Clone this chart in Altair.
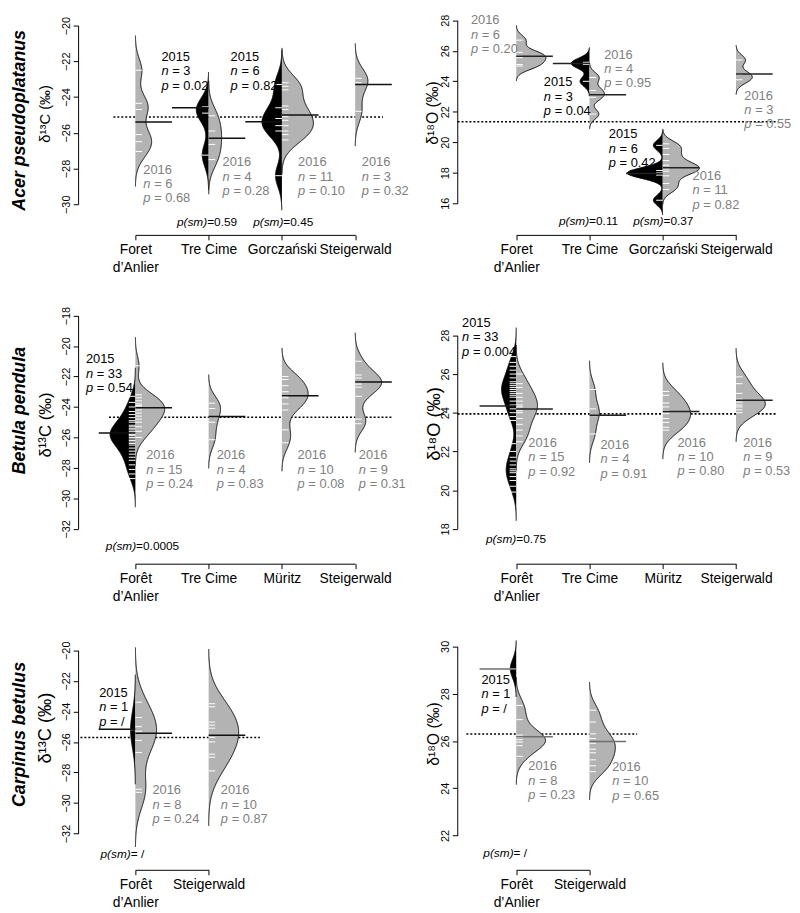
import altair as alt
import pandas as pd

FONT = "Liberation Sans, Arial, Helvetica, sans-serif"
BEAN_GREY = "#B3B3B3"
TEXT_GREY = "#808080"

# ---------------- site names ("|" = line break) ----------------
sites_acer = ["Foret|d’Anlier", "Tre Cime", "Gorczański", "Steigerwald"]
sites_betula = ["Forêt|d’Anlier", "Tre Cime", "Müritz", "Steigerwald"]
sites_carpinus = ["Forêt|d’Anlier", "Steigerwald"]

# ---------------- individual measurements (white bean lines) ----------------
# A: Acer pseudoplatanus, d13C
acer_c_foret_2016 = [-22.5, -24.35, -24.7, -26.1, -26.5, -27.05]
acer_c_trecime_2015 = [-24.55, -24.9, -27.25]
acer_c_trecime_2016 = [-25.05, -25.9, -26.65, -27.5]
acer_c_gorcz_2015 = [-23.3, -24.6, -25.2, -25.6, -25.9, -28.4]
acer_c_gorcz_2016 = [-23.2, -23.4, -23.6, -24.5, -24.7, -25.1, -25.3, -25.6, -25.9, -26.1, -26.4]
acer_c_steig_2016 = [-22.95, -23.2, -24.8]
# B: Acer pseudoplatanus, d18O
acer_o_foret_2016 = [26.7, 25.9, 25.65, 25.55, 25.1, 25.0]
acer_o_trecime_2015 = [25.25, 25.1, 24.0]
acer_o_trecime_2016 = [24.25, 23.4, 22.95, 21.85]
acer_o_gorcz_2015 = [19.8, 18.15, 18.0, 17.95, 17.85, 16.2]
acer_o_gorcz_2016 = [19.9, 19.6, 19.2, 18.8, 18.5, 18.35, 18.25, 18.1, 17.8, 17.3, 16.9]
acer_o_steig_2016 = [25.4, 24.45, 24.1]
# C: Betula pendula, d13C
betula_c_foret_2015 = [-23.3, -23.7, -24.0, -24.3, -24.5, -24.7, -24.9, -25.0, -25.2, -25.3, -25.4,
                       -25.5, -25.6, -25.7, -25.75, -25.8, -25.85, -25.9, -26.0, -26.1, -26.2, -26.3,
                       -26.4, -26.5, -26.7, -26.9, -27.1, -27.3, -27.5, -27.8, -28.1, -28.4, -28.7]
betula_c_foret_2016 = [-21.3, -23.2, -23.4, -23.6, -23.8, -23.9, -24.0, -24.2, -24.4, -24.6, -24.8,
                       -25.0, -25.3, -25.6, -26.0]
betula_c_trecime_2016 = [-23.75, -24.1, -25.0, -26.15]
betula_c_muritz_2016 = [-22.0, -22.2, -22.6, -23.0, -23.3, -23.4, -23.8, -24.2, -25.5, -26.35]
betula_c_steig_2016 = [-21.0, -21.9, -22.1, -22.4, -22.5, -22.7, -23.3, -24.8, -25.1]
# D: Betula pendula, d18O
betula_o_foret_2015 = [26.9, 26.6, 26.4, 26.2, 26.0, 25.8, 25.6, 25.5, 25.4, 25.3, 25.2, 25.1, 25.0,
                       24.9, 24.8, 24.6, 24.4, 24.2, 24.0, 23.8, 23.6,
                       22.4, 22.0, 21.7, 21.5, 21.3, 21.1, 21.0, 20.9, 20.7, 20.5, 20.2, 19.9]
betula_o_foret_2016 = [26.0, 25.5, 25.3, 25.0, 24.8, 24.6, 24.4, 24.3, 24.1, 24.0, 23.7, 23.4, 23.1,
                       22.8, 22.5]
betula_o_trecime_2016 = [25.2, 24.2, 23.85, 22.9]
betula_o_muritz_2016 = [25.1, 24.9, 24.5, 24.3, 24.1, 23.95, 23.7, 23.5, 23.25, 23.1]
betula_o_steig_2016 = [25.85, 25.5, 25.0, 24.7, 24.55, 24.4, 24.3, 24.15, 24.0]
# E: Carpinus betulus, d13C
carp_c_foret_2015 = [-25.2]
carp_c_foret_2016 = [-23.4, -24.4, -25.0, -25.3, -25.9, -26.7, -29.1, -29.3]
carp_c_steig_2016 = [-23.5, -23.7, -24.7, -24.9, -25.1, -25.7, -26.0, -26.8, -27.0, -27.9]
# F: Carpinus betulus, d18O
carp_o_foret_2015 = [29.05]
carp_o_foret_2016 = [27.5, 26.9, 26.25, 26.15, 26.05, 25.95, 25.8, 25.35]
carp_o_steig_2016 = [27.3, 26.8, 26.3, 26.1, 25.9, 25.65, 25.5, 25.2, 24.95, 24.7]

# ---------------- bean means (site, year, mean) ----------------
acer_c_means = [(1, 2016, -25.4), (2, 2015, -24.6), (2, 2016, -26.3), (3, 2015, -25.38), (3, 2016, -25.0), (4, 2016, -23.3)]
acer_o_means = [(1, 2016, 25.65), (2, 2015, 25.17), (2, 2016, 23.12), (3, 2015, 17.96), (3, 2016, 18.33), (4, 2016, 24.48)]
betula_c_means = [(1, 2015, -25.71), (1, 2016, -24.05), (2, 2016, -24.63), (3, 2016, -23.27), (4, 2016, -22.36)]
betula_o_means = [(1, 2015, 24.35), (1, 2016, 24.19), (2, 2016, 23.87), (3, 2016, 24.06), (4, 2016, 24.65)]
carp_c_means = [(1, 2015, -25.17), (1, 2016, -25.43), (2, 2016, -25.56)]
carp_o_means = [(1, 2015, 29.04), (1, 2016, 26.18), (2, 2016, 25.98)]

# ---------------- overall mean (dotted line): value, from site, to site ----------------
acer_c_overall = (-25.12, 0.70, 4.38)
acer_o_overall = (21.35, 0.20, 4.57)
betula_c_overall = (-24.67, 0.64, 4.50)
betula_o_overall = (23.94, 0.20, 4.56)
carp_c_overall = (-25.71, 0.25, 2.70)
carp_o_overall = (26.29, 0.32, 2.65)

# ---------------- annotations: site x, baseline y, year, n, p ----------------
acer_c_notes = [(1.108, -28.29, 2016, "6", "0.68"), (1.355, -21.99, 2015, "3", "0.02"),
                (2.19, -27.87, 2016, "4", "0.28"), (2.30, -21.99, 2015, "6", "0.82"),
                (3.22, -27.87, 2016, "11", "0.10"), (4.09, -27.87, 2016, "3", "0.32")]
acer_o_notes = [(0.382, 27.73, 2016, "6", "0.20"), (1.376, 23.67, 2015, "3", "0.04"),
                (2.20, 25.49, 2016, "4", "0.95"), (2.263, 20.27, 2015, "6", "0.42"),
                (3.406, 17.52, 2016, "11", "0.82"), (4.113, 22.80, 2016, "3", "0.55")]
betula_c_notes = [(0.325, -21.13, 2015, "33", "0.54"), (1.148, -27.44, 2016, "15", "0.24"),
                  (2.11, -27.44, 2016, "4", "0.83"), (3.213, -27.44, 2016, "10", "0.08"),
                  (4.05, -27.44, 2016, "9", "0.31")]
betula_o_notes = [(0.261, 28.43, 2015, "33", "0.004"), (1.165, 22.22, 2016, "15", "0.92"),
                  (2.15, 22.12, 2016, "4", "0.91"), (3.20, 22.25, 2016, "10", "0.80"),
                  (4.10, 22.25, 2016, "9", "0.53")]
carp_c_notes = [(0.506, -23.06, 2015, "1", "/"), (1.233, -29.43, 2016, "8", "0.24"),
                (2.166, -29.43, 2016, "10", "0.87")]
carp_o_notes = [(0.525, 28.40, 2015, "1", "/"), (1.165, 24.76, 2016, "8", "0.23"),
                (2.31, 24.73, 2016, "10", "0.65")]

# p(sm): site x, baseline y, value
acer_c_psm = [(1.98, -31.2, "0.59"), (3.02, -31.2, "0.45")]
acer_o_psm = [(1.995, 14.55, "0.11"), (3.01, 14.55, "0.37")]
betula_c_psm = [(1.01, -33.38, "0.0005")]
betula_o_psm = [(1.00, 17.26, "0.75")]
carp_c_psm = [(0.937, -33.57, " /")]
carp_o_psm = [(0.964, 21.10, " /")]

species_names = ["Acer pseudoplatanus", "Betula pendula", "Carpinus betulus"]

# ---------------- panel setup (layout / style) ----------------
STEP = 74.2
PANELS = [
    dict(id="A", sites=sites_acer, ydom=[-30, -20], yrng=[189, 8], W=384, H=220, x0=58,
         ytitle="δ¹³C (‰)", tfs=15, tx=-34, ty=97, bw=0.65, wmax=0.43, ext=[-31.5, -19.0],
         beans=[(1, 2016, acer_c_foret_2016), (2, 2015, acer_c_trecime_2015), (2, 2016, acer_c_trecime_2016),
                (3, 2015, acer_c_gorcz_2015), (3, 2016, acer_c_gorcz_2016), (4, 2016, acer_c_steig_2016)],
         means=acer_c_means, overall=acer_c_overall, notes=acer_c_notes, psm=acer_c_psm,
         species=species_names[0], sp_y=104, mcol="#111111"),
    dict(id="B", sites=sites_acer, ydom=[16, 28], yrng=[188, 2.7], W=320, H=220, x0=59.7,
         ytitle="δ¹⁸O (‰)", tfs=16, tx=-25, ty=96, bw=0.33, wmax=0.5, ext=[14.5, 29.0],
         beans=[(1, 2016, acer_o_foret_2016), (2, 2015, acer_o_trecime_2015), (2, 2016, acer_o_trecime_2016),
                (3, 2015, acer_o_gorcz_2015), (3, 2016, acer_o_gorcz_2016), (4, 2016, acer_o_steig_2016)],
         means=acer_o_means, overall=acer_o_overall, notes=acer_o_notes, psm=acer_o_psm,
         species=None, sp_y=0, mcol="#222222"),
    dict(id="C", sites=sites_betula, ydom=[-32, -18], yrng=[297.7, 81.7], W=384, H=333, x0=58,
         ytitle="δ¹³C (‰)", tfs=17, tx=-33, ty=192, bw=0.63, wmax=0.4, ext=[-32.0, -18.0],
         beans=[(1, 2015, betula_c_foret_2015), (1, 2016, betula_c_foret_2016), (2, 2016, betula_c_trecime_2016),
                (3, 2016, betula_c_muritz_2016), (4, 2016, betula_c_steig_2016)],
         means=betula_c_means, overall=betula_c_overall, notes=betula_c_notes, psm=betula_c_psm,
         species=species_names[1], sp_y=178, mcol="#111111"),
    dict(id="D", sites=sites_betula, ydom=[18, 28], yrng=[297.7, 101.7], W=320, H=333, x0=59.7,
         ytitle="δ¹⁸O (‰)", tfs=18.5, tx=-24, ty=191, bw=0.5, wmax=0.4, ext=[17.0, 29.5],
         beans=[(1, 2015, betula_o_foret_2015), (1, 2016, betula_o_foret_2016), (2, 2016, betula_o_trecime_2016),
                (3, 2016, betula_o_muritz_2016), (4, 2016, betula_o_steig_2016)],
         means=betula_o_means, overall=betula_o_overall, notes=betula_o_notes, psm=betula_o_psm,
         species=None, sp_y=0, mcol="#222222"),
    dict(id="E", sites=sites_carpinus, ydom=[-32, -20], yrng=[273.3, 87.7], W=384, H=310, x0=58,
         ytitle="δ¹³C (‰)", tfs=18.5, tx=-34, ty=166, bw=1.2, wmax=0.41, ext=[-34.0, -18.0],
         beans=[(1, 2015, carp_c_foret_2015), (1, 2016, carp_c_foret_2016), (2, 2016, carp_c_steig_2016)],
         means=carp_c_means, overall=carp_c_overall, notes=carp_c_notes, psm=carp_c_psm,
         species=species_names[2], sp_y=173, mcol="#111111"),
    dict(id="F", sites=sites_carpinus, ydom=[22, 30], yrng=[275.3, 83.7], W=320, H=310, x0=59.7,
         ytitle="δ¹⁸O (‰)", tfs=16, tx=-24, ty=172, bw=0.4, wmax=0.4, ext=[22.0, 31.5],
         beans=[(1, 2015, carp_o_foret_2015), (1, 2016, carp_o_foret_2016), (2, 2016, carp_o_steig_2016)],
         means=carp_o_means, overall=carp_o_overall, notes=carp_o_notes, psm=carp_o_psm,
         species=None, sp_y=0, mcol="#6E6E6E"),
]

BEANLINE = 0.09   # white data-line length (site units)
MEANLINE = 0.5    # mean-line length (site units)

# ---------------- tables ----------------
val_rows, mean_rows, ov_rows, note_rows, psm_rows, sp_rows = [], [], [], [], [], []
for p in PANELS:
    pid = p["id"]
    for center, year, vals in p["beans"]:
        for v in vals:
            val_rows.append(dict(panel=pid, bean=f"{pid}{center}{year}", center=center, year=year, value=v))
    for center, year, m in p["means"]:
        mean_rows.append(dict(panel=pid, center=center, year=year, mean=m))
    y, a, b = p["overall"]
    ov_rows.append(dict(panel=pid, y=y, x1=a, x2=b))
    for x, y, year, n, pv in p["notes"]:
        note_rows.append(dict(panel=pid, x=x, y=y, ytxt=str(year), itxt="\nn\np",
                              vtxt=f"\n= {n}\n= {pv}", col="black" if year == 2015 else TEXT_GREY))
    for x, y, pv in p["psm"]:
        psm_rows.append(dict(panel=pid, x=x, y=y, vtxt="=" + pv))
    if p["species"]:
        sp_rows.append(dict(panel=pid, name=p["species"]))

vals_df = pd.DataFrame(val_rows)
means_df = pd.DataFrame(mean_rows)
ov_df = pd.DataFrame(ov_rows)
notes_df = pd.DataFrame(note_rows)
psm_df = pd.DataFrame(psm_rows)
sp_df = pd.DataFrame(sp_rows)


def make_panel(p):
    pid = p["id"]
    n = len(p["sites"])
    xs = alt.Scale(domain=[1, n], range=[p["x0"], p["x0"] + (n - 1) * STEP], nice=False, zero=False)
    ys = alt.Scale(domain=p["ydom"], range=p["yrng"], nice=False, zero=False)
    lab = "[" + ",".join("'" + s + "'" for s in p["sites"]) + "]"
    xaxis = alt.Axis(values=list(range(1, n + 1)), labelExpr=f"split({lab}[datum.value - 1], '|')",
                     title=None, tickSize=5, labelFontSize=14, labelFont=FONT, labelPadding=3,
                     labelLineHeight=18, labelBaseline="top", labelAlign="center", labelFlush=False,
                     labelOverlap=False, labelBound=False, domainColor="black", tickColor="black",
                     labelColor="black", grid=False)
    yaxis = alt.Axis(values=list(range(p["ydom"][0], p["ydom"][1] + 1, 2)), format="d",
                     title=p["ytitle"], titleX=p["tx"], titleY=p["ty"], titleAngle=270,
                     titleAlign="center", titleBaseline="middle", titleFontSize=p["tfs"],
                     titleFontWeight="normal", titleFont=FONT, titleColor="black",
                     labelAngle=270, labelAlign="center", labelBaseline="bottom", labelFontSize=11,
                     labelFont=FONT, labelPadding=2, labelFlush=False, labelOverlap=False,
                     tickSize=5, domainColor="black", tickColor="black", labelColor="black", grid=False)

    def X(f):
        return alt.X(f"{f}:Q", scale=xs, axis=xaxis, stack=None)

    def Y(f):
        return alt.Y(f"{f}:Q", scale=ys, axis=yaxis)

    flt = alt.datum.panel == pid

    dotted = alt.Chart(ov_df).transform_filter(flt).mark_rule(
        color="black", strokeDash=[2, 2], strokeWidth=1.6
    ).encode(x=X("x1"), x2=alt.X2("x2"), y=Y("y"))

    bw = p["bw"]
    dens = (
        alt.Chart(vals_df).transform_filter(flt)
        .transform_joinaggregate(n="count()", vmin="min(value)", vmax="max(value)", groupby=["bean"])
        .transform_calculate(lo=f"datum.vmin - {3 * bw}")
        .transform_calculate(hi=f"datum.vmax + {3 * bw}")
        .transform_density("value", as_=["v", "dens"], bandwidth=bw, extent=p["ext"], steps=600,
                           groupby=["bean", "center", "year", "n", "lo", "hi"])
        .transform_filter("datum.v >= datum.lo && datum.v <= datum.hi")
        .transform_calculate(dd="datum.dens * min(datum.n, 10) / 10")
        .transform_joinaggregate(maxdd="max(dd)")
        .transform_calculate(w=f"datum.dd / datum.maxdd * {p['wmax']}")
        .transform_calculate(xa="datum.year == 2015 ? datum.center - datum.w : datum.center")
        .transform_calculate(xb="datum.year == 2015 ? datum.center : datum.center + datum.w")
        .transform_calculate(xo="datum.year == 2015 ? datum.center - datum.w : datum.center + datum.w")
        .transform_calculate(fillc=f"datum.year == 2015 ? 'black' : '{BEAN_GREY}'")
    )
    area = dens.mark_area(orient="horizontal", strokeWidth=0).encode(
        x=X("xa"), x2=alt.X2("xb"), y=Y("v"), detail="bean:N", fill=alt.Fill("fillc:N", scale=None))
    outline = dens.mark_line(color="black", strokeWidth=1).encode(
        x=X("xo"), y=Y("v"), detail="bean:N", order="v:Q")

    blines = (
        alt.Chart(vals_df).transform_filter(flt)
        .transform_calculate(bx1=f"datum.year == 2015 ? datum.center - {BEANLINE} : datum.center")
        .transform_calculate(bx2=f"datum.year == 2015 ? datum.center : datum.center + {BEANLINE}")
        .mark_rule(color="white", strokeWidth=1)
        .encode(x=X("bx1"), x2=alt.X2("bx2"), y=Y("value"))
    )
    mlines = (
        alt.Chart(means_df).transform_filter(flt)
        .transform_calculate(mx1=f"datum.year == 2015 ? datum.center - {MEANLINE} : datum.center")
        .transform_calculate(mx2=f"datum.year == 2015 ? datum.center : datum.center + {MEANLINE}")
        .mark_rule(color=p["mcol"], strokeWidth=1.5)
        .encode(x=X("mx1"), x2=alt.X2("mx2"), y=Y("mean"))
    )

    nb = alt.Chart(notes_df).transform_filter(flt)
    tstyle = dict(align="left", baseline="alphabetic", font=FONT, fontSize=13, lineBreak="\n", lineHeight=14.5)
    t_year = nb.mark_text(**tstyle).encode(x=X("x"), y=Y("y"), text="ytxt:N",
                                           color=alt.Color("col:N", scale=None))
    t_ital = nb.mark_text(fontStyle="italic", **tstyle).encode(x=X("x"), y=Y("y"), text="itxt:N",
                                                               color=alt.Color("col:N", scale=None))
    t_val = nb.mark_text(dx=11, **tstyle).encode(x=X("x"), y=Y("y"), text="vtxt:N",
                                                 color=alt.Color("col:N", scale=None))

    pb = alt.Chart(psm_df).transform_filter(flt)
    p1 = pb.mark_text(align="right", baseline="alphabetic", font=FONT, fontSize=12, fontStyle="italic",
                      color="black").encode(x=X("x"), y=Y("y"), text=alt.value("p(sm)"))
    p2 = pb.mark_text(align="left", baseline="alphabetic", font=FONT, fontSize=12,
                      color="black").encode(x=X("x"), y=Y("y"), text="vtxt:N")

    layers = [dotted, area, outline, blines, mlines, t_year, t_ital, t_val, p1, p2]
    if p["species"]:
        sp = alt.Chart(sp_df).transform_filter(flt).mark_text(
            angle=270, fontWeight="bold", fontStyle="italic", fontSize=18, font=FONT,
            align="center", baseline="middle", color="black"
        ).encode(x=alt.value(-59), y=alt.value(p["sp_y"]), text="name:N")
        layers.append(sp)
    return alt.layer(*layers).properties(width=p["W"], height=p["H"])


chart = alt.concat(*[make_panel(p) for p in PANELS], columns=2, spacing=0, bounds="flush", align="each")
chart = chart.properties(padding={"left": 3, "top": 0, "right": 0, "bottom": 0}).configure_view(
    stroke=None).configure_axis(grid=False)

chart.save("out.html", embed_options={"renderer": "svg", "actions": False})
